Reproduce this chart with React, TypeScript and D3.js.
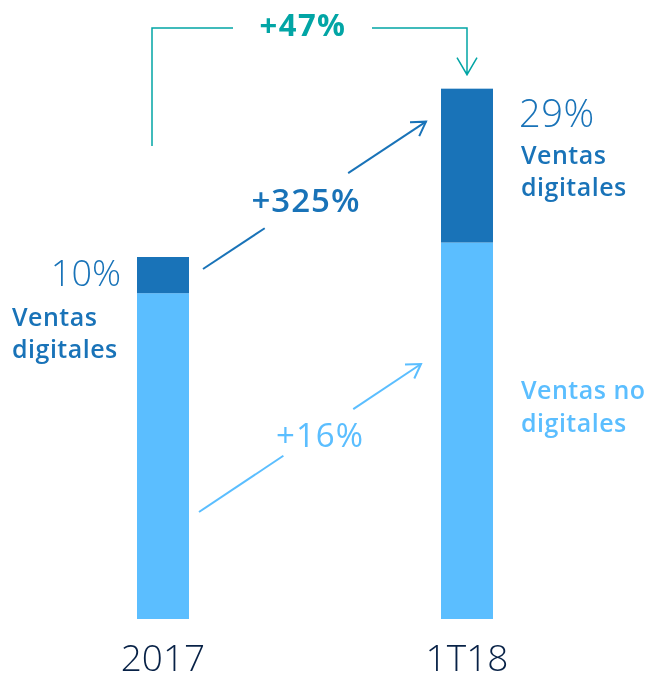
import React, { useEffect, useRef } from "react";
import * as d3 from "d3";

// data
const periods = ["2017", "1T18"];
const digital = [10, 42.5];
const nonDigital = [90, 104];
const shareLabels = ["10%", "29%"];
const growthTotal = "+47%";
const growthDigital = "+325%";
const growthNonDigital = "+16%";

const W = 649;
const H = 682;
const DARK = "#1973B8";
const LIGHT = "#5BBEFF";
const TEAL = "#02A5A5";
const NAVY = "#072146";
const FONT = "'Open Sans', Lato, sans-serif";

export default function App() {
  const ref = useRef<SVGSVGElement>(null);

  useEffect(() => {
    const svg = d3.select(ref.current);
    svg.selectAll("*").remove();

    // bar positions from a point scale over the two periods
    const x = d3.scalePoint().domain(periods).range([163, 467]);
    const bw = 52;
    const x0 = (p: string) => (x(p) as number) - bw / 2;
    const y = d3.scaleLinear().domain([0, 100]).range([619, 257]);

    const stacks = periods.map((p, i) => ({ p, nd: nonDigital[i], d: digital[i] }));

    const g = svg.append("g");
    g.selectAll(".nd")
      .data(stacks)
      .enter()
      .append("rect")
      .attr("x", (d) => x0(d.p))
      .attr("width", bw)
      .attr("y", (d) => y(d.nd))
      .attr("height", (d) => y(0) - y(d.nd))
      .attr("fill", LIGHT);
    g.selectAll(".dg")
      .data(stacks)
      .enter()
      .append("rect")
      .attr("x", (d) => x0(d.p))
      .attr("width", bw)
      .attr("y", (d) => y(d.nd + d.d))
      .attr("height", (d) => y(d.nd) - y(d.nd + d.d))
      .attr("fill", DARK);

    // axis labels
    g.selectAll(".cat")
      .data(periods)
      .enter()
      .append("text")
      .attr("x", (d) => x(d) as number)
      .attr("y", 671)
      .attr("text-anchor", "middle")
      .attr("font-family", FONT)
      .attr("font-weight", 300)
      .attr("font-size", 37)
      .attr("fill", NAVY)
      .text((d) => d);

    const top0 = y(nonDigital[0] + digital[0]);
    const top1 = y(nonDigital[1] + digital[1]);

    const word = (t: string, px: number, py: number, color: string) =>
      g.append("text")
        .attr("x", px).attr("y", py)
        .attr("font-family", FONT).attr("font-weight", 600).attr("font-size", 25)
        .attr("letter-spacing", 0.5)
        .attr("fill", color).text(t);

    // left labels
    g.append("text")
      .attr("x", 121).attr("y", 286)
      .attr("text-anchor", "end")
      .attr("font-family", FONT).attr("font-weight", 300).attr("font-size", 36)
      .attr("fill", DARK).text(shareLabels[0]);
    word("Ventas", 12, 326, DARK);
    word("digitales", 12, 358, DARK);

    // right labels
    g.append("text")
      .attr("x", 519).attr("y", 127)
      .attr("font-family", FONT).attr("font-weight", 300).attr("font-size", 38)
      .attr("letter-spacing", 0.5)
      .attr("fill", DARK).text(shareLabels[1]);
    word("Ventas", 521, 164, DARK);
    word("digitales", 521, 196, DARK);
    word("Ventas no", 521, 399, LIGHT);
    word("digitales", 521, 432, LIGHT);

    // growth arrows
    function arrow(x1: number, y1: number, x2: number, y2: number, color: string, label: string, lx: number, ly: number, weight: number, gap: number) {
      const ang = Math.atan2(y2 - y1, x2 - x1);
      const ag = svg.append("g");
      const len = Math.hypot(x2 - x1, y2 - y1);
      const proj = (lx - x1) * Math.cos(ang) + (ly - 12 - y1) * Math.sin(ang);
      const segs = [[0, proj - gap], [proj + gap, len]];
      segs.forEach(([a, b]) => {
        ag.append("line")
          .attr("x1", x1 + a * Math.cos(ang)).attr("y1", y1 + a * Math.sin(ang))
          .attr("x2", x1 + b * Math.cos(ang)).attr("y2", y1 + b * Math.sin(ang))
          .attr("stroke", color).attr("stroke-width", 2);
      });
      const h = 16;
      const path = d3.path();
      path.moveTo(x2 - h * Math.cos(ang - 0.55), y2 - h * Math.sin(ang - 0.55));
      path.lineTo(x2, y2);
      path.lineTo(x2 - h * Math.cos(ang + 0.55), y2 - h * Math.sin(ang + 0.55));
      ag.append("path").attr("d", path.toString()).attr("fill", "none")
        .attr("stroke", color).attr("stroke-width", 2);
      ag.append("text")
        .attr("x", lx).attr("y", ly)
        .attr("text-anchor", "middle")
        .attr("font-family", FONT).attr("font-weight", weight).attr("font-size", 33)
        .attr("letter-spacing", 1)
        .attr("fill", color).text(label);
    }

    arrow(x0("2017") + bw + 14, top0 + 12, x0("1T18") - 15, top1 + 33, DARK, growthDigital, 306, 212, 600, 50);
    arrow(x0("2017") + bw + 10, 512, x0("1T18") - 20, 364, LIGHT, growthNonDigital, 320, 447, 500, 42);

    // total bracket
    const bx1 = 152, bx2 = 467, by = 28;
    const br = d3.path();
    br.moveTo(bx1, 146);
    br.lineTo(bx1, by);
    br.lineTo(233, by);
    br.moveTo(372, by);
    br.lineTo(bx2, by);
    br.lineTo(bx2, top1 - 14);
    br.moveTo(bx2 - 10, top1 - 31);
    br.lineTo(bx2, top1 - 14);
    br.lineTo(bx2 + 10, top1 - 31);
    svg.append("path").attr("d", br.toString()).attr("fill", "none")
      .attr("stroke", TEAL).attr("stroke-width", 1.5);
    svg.append("text")
      .attr("x", 303).attr("y", 36)
      .attr("text-anchor", "middle")
      .attr("font-family", FONT).attr("font-weight", 700).attr("font-size", 31)
      .attr("letter-spacing", 1.5)
      .attr("fill", TEAL).text(growthTotal);
  }, []);

  return (
    <svg
      ref={ref}
      width={W}
      height={H}
      style={{ position: "fixed", left: 0, top: 0, display: "block" }}
    />
  );
}
